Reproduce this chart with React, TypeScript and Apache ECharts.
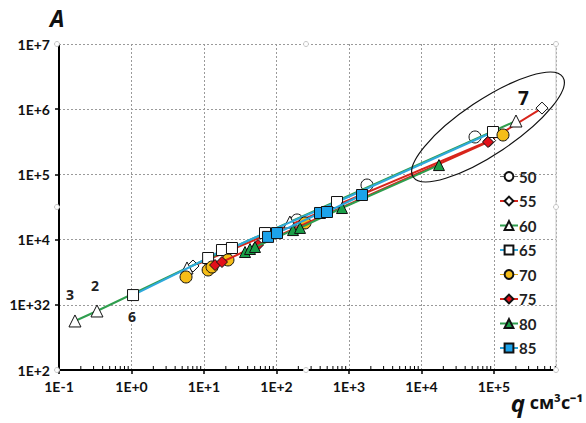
import React, { useEffect, useRef } from "react";
import * as echarts from "echarts";

// Data (q, A) per series
const q50 = [192, 1770, 54700];
const a50 = [20000, 68700, 375000];
const q55 = [7.05, 87000, 459000];
const a55 = [3940, 330000, 1040000];
const q60 = [0.166, 0.334, 5.83, 153, 201000];
const a60 = [565, 804, 3670, 18600, 659000];
const q65 = [1.05, 11.4, 17.7, 24.3, 69.4, 683, 96800];
const a65 = [1410, 5220, 6920, 7430, 12600, 37700, 447000];
const q70 = [5.65, 11.4, 12.9, 21.4, 247, 133000];
const a70 = [2670, 3420, 3800, 4870, 18000, 402000];
const q75 = [14.2, 17.7, 55.6, 82600];
const a75 = [4070, 4530, 8260, 314000];
const q80 = [36.8, 43.1, 50.5, 169, 211, 800, 17400];
const a80 = [6450, 7180, 7700, 14000, 15100, 30500, 139000];
const q85 = [76.4, 101.6, 398, 497, 1510];
const a85 = [11000, 12600, 25600, 26500, 48300];

const seriesNames = ["50", "55", "60", "65", "70", "75", "80", "85"];
const yLabel1000 = "1E+32";
const xMin = 0.1;
const xMax = 716000;
const yMin = 100;
const yMax = 1e7;
const minorMultipliers = [2, 3, 4, 5, 6, 7, 8, 9];
const decades = [0.1, 1, 10, 100, 1000, 10000, 100000];

const pts = (xs: number[], ys: number[]) => xs.map((x, i) => [x, ys[i]]);

export default function App() {
  const ref = useRef<HTMLDivElement>(null);
  useEffect(() => {
    if (!ref.current) return;
    const chart = echarts.init(ref.current, undefined, { renderer: "svg" });
    const font = "Lato";
    const border = "#111";
    const mk = (
      name: string,
      data: number[][],
      symbol: string,
      size: number,
      fill: string,
      line: string | null,
      z: number
    ) => ({
      type: "line",
      name,
      data,
      symbol,
      symbolSize: size,
      showAllSymbol: true,
      z,
      itemStyle: { color: fill, borderColor: border, borderWidth: 1 },
      lineStyle: line
        ? { color: line, width: 2 }
        : { color: "#555", width: 1, opacity: 0 },
      emphasis: { disabled: true },
    });
    const minorTicks: number[][] = [];
    decades.forEach((d) =>
      minorMultipliers.forEach((m) => {
        const v = d * m;
        if (v < xMax) minorTicks.push([v, yMin]);
      })
    );
    const expFmt = (v: number) => {
      const e = Math.log10(v);
      const r = Math.round(e);
      if (Math.abs(e - r) > 1e-6) return "";
      return r < 0 ? "1E" + r : "1E+" + r;
    };
    const option: any = {
      animation: false,
      grid: { left: 59, right: 30, top: 44, bottom: 53, containLabel: false },
      xAxis: {
        type: "log",
        logBase: 10,
        min: xMin,
        max: xMax,
        axisLine: { show: true, onZero: false, lineStyle: { color: "#000", width: 2 } },
        axisTick: { show: true, length: 4, lineStyle: { color: "#000", width: 1.5 } },
        splitLine: { show: true, lineStyle: { color: "#9a9a9a", type: [2, 2], width: 1 } },
        axisLabel: {
          formatter: expFmt,
          color: "#111",
          fontFamily: font,
          fontWeight: "bold",
          fontSize: 14,
          margin: 9,
          showMaxLabel: false,
        },
      },
      yAxis: {
        type: "log",
        logBase: 10,
        min: yMin,
        max: yMax,
        axisLine: { show: true, onZero: false, lineStyle: { color: "#000", width: 2 } },
        axisTick: { show: true, length: 4, lineStyle: { color: "#000", width: 1.5 } },
        splitLine: { show: true, lineStyle: { color: "#9a9a9a", type: [2, 2], width: 1 } },
        axisLabel: {
          formatter: (v: number) => (Math.abs(v - 1000) < 1e-6 ? yLabel1000 : expFmt(v)),
          color: "#111",
          fontFamily: font,
          fontWeight: "bold",
          fontSize: 14,
          margin: 9,
        },
      },
      legend: {
        data: [
          { name: "50", lineStyle: { color: "#666", width: 1, opacity: 1 } },
          "55",
          "60",
          "65",
          { name: "70", lineStyle: { color: "#e0a814", width: 1, opacity: 1 } },
          "75",
          "80",
          "85",
        ],
        orient: "vertical",
        left: 494,
        top: 164,
        itemWidth: 18,
        itemHeight: 11,
        itemGap: 9.5,
        textStyle: { fontFamily: font, fontWeight: "bold", fontSize: 15, color: "#222", padding: [0, 0, 0, -4] },
        selectedMode: false,
      },
      series: [
        mk("50", pts(q50, a50), "circle", 12, "#ffffff", null, 2),
        mk("55", pts(q55, a55), "diamond", 12, "#ffffff", "#d8241b", 3),
        mk("60", pts(q60, a60), "triangle", 12, "#ffffff", "#2f9e4e", 4),
        mk("65", pts(q65, a65), "rect", 11, "#ffffff", "#2fa9dc", 5),
        mk("70", pts(q70, a70), "circle", 12, "#f5bd17", null, 6),
        mk("75", pts(q75, a75), "diamond", 11, "#e3101a", "#d8241b", 7),
        mk("80", pts(q80, a80), "triangle", 11, "#1a9f48", "#2f9e4e", 8),
        mk("85", pts(q85, a85), "rect", 11, "#1ca3eb", "#2aa3d8", 9),
        {
          type: "custom",
          name: "minor",
          data: minorTicks,
          silent: true,
          z: 10,
          renderItem: (_p: any, api: any) => {
            const c = api.coord([api.value(0), api.value(1)]);
            return {
              type: "line",
              shape: { x1: c[0], y1: c[1] - 4, x2: c[0], y2: c[1] },
              style: { stroke: "#000", lineWidth: 1 },
            };
          },
        },
      ],
      graphic: [
        { type: "line", shape: { x1: 556, y1: 44, x2: 556, y2: 370 }, style: { stroke: "#c8c8c8", lineWidth: 1 }, z: 1 },
        {
          type: "ellipse",
          x: 488,
          y: 127,
          rotation: 0.59,
          shape: { cx: 0, cy: 0, rx: 90, ry: 27 },
          style: { fill: "none", stroke: "#111", lineWidth: 1.2 },
          z: 20,
        },
        ...[
          [57, 44], [306, 44], [556, 44], [57, 207], [556, 207], [57, 370], [306, 370], [556, 370],
        ].map(([x, y]) => ({
          type: "circle",
          shape: { cx: x, cy: y, r: 2.5 },
          style: { fill: "#fff", stroke: "#c4c4c4", lineWidth: 1 },
          z: 30,
        })),
        { type: "text", left: 50, top: 6, style: { text: "A", font: "italic bold 23px 'Open Sans'", fill: "#111" }, z: 20 },
        {
          type: "text",
          right: 3,
          top: 390,
          style: {
            text: "{q|q}{u| см³с⁻¹}",
            rich: {
              q: { font: "italic bold 24px 'Open Sans'", fill: "#111" },
              u: { font: "bold 18px 'Open Sans'", fill: "#111" },
            },
          },
          z: 20,
        },
        { type: "text", x: 518, y: 88, style: { text: "7", font: "bold 19px 'Open Sans'", fill: "#111" }, z: 20 },
        { type: "text", x: 66, y: 287, style: { text: "3", font: "bold 14px 'Open Sans'", fill: "#222" }, z: 20 },
        { type: "text", x: 91, y: 278, style: { text: "2", font: "bold 14px 'Open Sans'", fill: "#222" }, z: 20 },
        { type: "text", x: 128, y: 309, style: { text: "6", font: "bold 14px 'Open Sans'", fill: "#222" }, z: 20 },
      ],
    };
    chart.setOption(option);
    return () => chart.dispose();
  }, []);
  return (
    <div
      ref={ref}
      style={{ position: "fixed", left: 0, top: 0, width: 586, height: 423, background: "#fff" }}
    />
  );
}
